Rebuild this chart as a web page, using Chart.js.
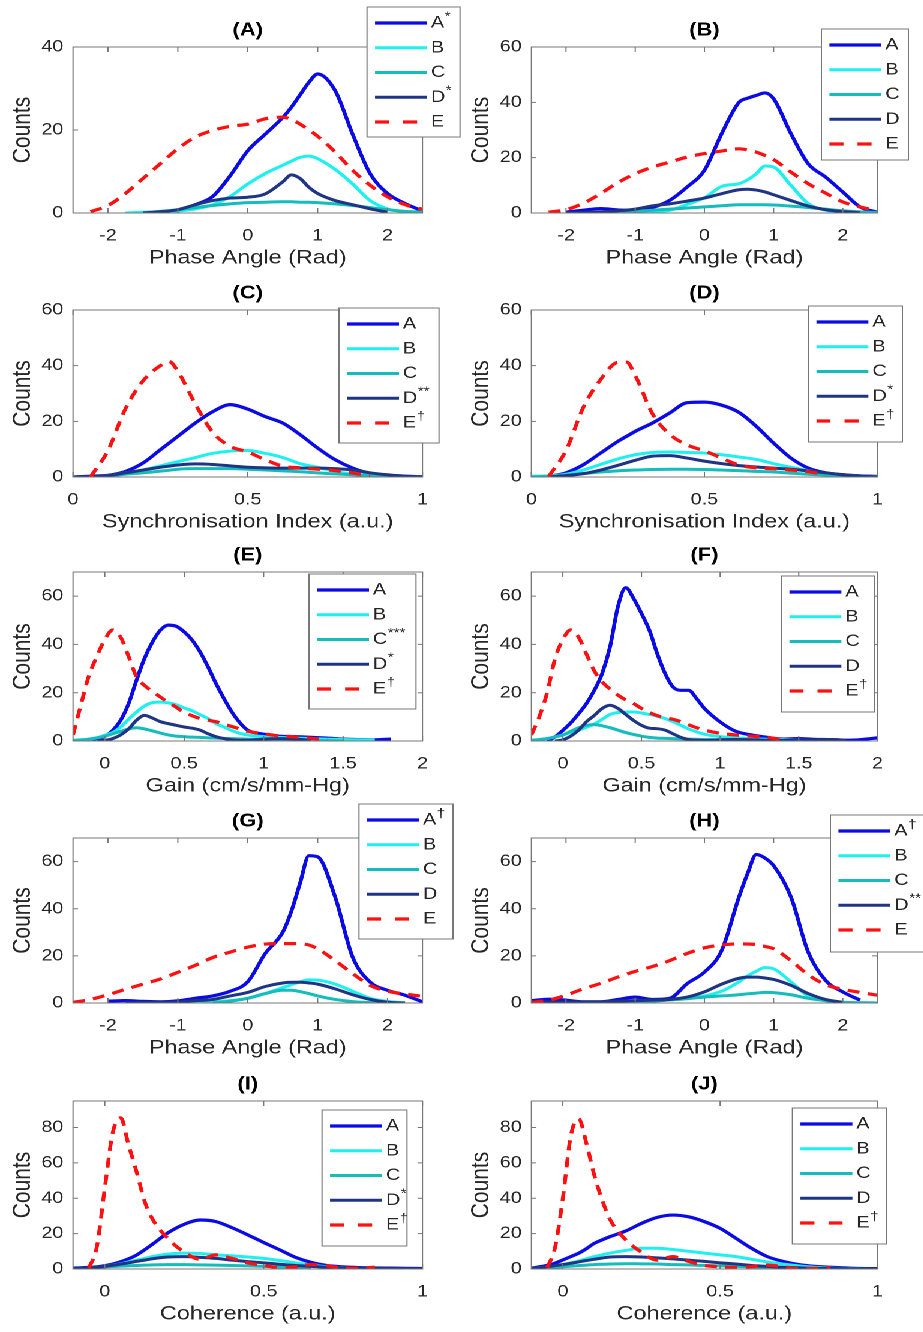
<!DOCTYPE html>
<html>
<head>
<meta charset="utf-8">
<title>Counts by group</title>
<script src="https://cdn.jsdelivr.net/npm/chart.js@4.4.1/dist/chart.umd.min.js"></script>
<style>
    html, body { margin: 0; padding: 0; background: #fff; }
    body { width: 923px; height: 1332px; overflow: hidden; }
    /* the source figure is stretched sideways, so the whole figure is too */
    #figure { position: relative; width: 769.2px; height: 1332px; transform: scaleX(1.2); transform-origin: 0 0; }
    #figure canvas { position: absolute; }
</style>
</head>
<body>
<div id="figure"></div>
<script>

// =============================
// DATA
// =============================

const phaseX = [-2.5, -2.25, -2, -1.75, -1.5, -1.25, -1, -0.75, -0.5, -0.25, 0, 0.25, 0.5, 0.625, 0.75, 0.875, 1, 1.25, 1.5, 1.75, 2, 2.25, 2.5];
const syncX = [0, 0.05, 0.1, 0.15, 0.2, 0.25, 0.275, 0.3, 0.35, 0.4, 0.45, 0.5, 0.55, 0.6, 0.65, 0.7, 0.75, 0.8, 0.85, 0.9, 0.95, 1];
const gainX = [-0.2, -0.15, -0.1, -0.05, 0, 0.05, 0.1, 0.15, 0.2, 0.25, 0.3, 0.35, 0.4, 0.45, 0.5, 0.55, 0.6, 0.65, 0.7, 0.75, 0.8, 0.85, 0.9, 1, 1.1, 1.2, 1.3, 1.4, 1.5, 1.6, 1.7, 1.8, 1.9, 2];
const cohX = [-0.1, -0.05, -0.025, 0, 0.025, 0.05, 0.075, 0.1, 0.125, 0.15, 0.2, 0.25, 0.3, 0.35, 0.4, 0.45, 0.5, 0.55, 0.6, 0.65, 0.7, 0.75, 0.8, 0.85, 0.9, 0.95, 1];

const phaseTicks = [-2, -1, 0, 1, 2];
const unitTicks = [0, 0.5, 1];
const gainTicks = [0, 0.5, 1, 1.5, 2];
const counts40 = [0, 20, 40];
const counts60 = [0, 20, 40, 60];
const counts80 = [0, 20, 40, 60, 80];

// (A) phase angle
const panelA_A = [null, null, null, null, 0, 0.2, 0.5, 2, 4, 9, 15, 19, 23, 25.5, 28.5, 31.5, 33.5, 29.5, 19, 9.5, 4.7, 2.3, 0.5];
const panelA_B = [null, null, null, 0, 0.2, 0.3, 0.5, 1, 2, 4, 7, 9.5, 11.5, 12.5, 13.4, 13.7, 13.1, 10.5, 7, 3, 1, 0.3, 0];
const panelA_C = [null, null, null, null, 0.1, 0.4, 0.8, 1.3, 1.8, 2.2, 2.5, 2.6, 2.7, 2.7, 2.6, 2.6, 2.5, 2.2, 1.8, 1.3, 0.8, 0.4, 0.2];
const panelA_D = [null, null, null, null, 0, 0.3, 0.8, 2, 3, 3.6, 3.8, 4.6, 7.5, 9.2, 8.3, 6.2, 4.7, 3, 2, 1, 0.2, null, null];
const panelA_E = [null, 0.3, 1.8, 4.7, 8.3, 11.9, 15.5, 18.3, 19.9, 20.9, 21.4, 22.7, 23.1, 22.5, 21.4, 20, 18.5, 14.7, 10.3, 6.7, 3.9, 2, 0.9];

// (B) phase angle
const panelB_A = [null, null, 0.3, 1, 1.6, 1.1, 0.8, 2, 4.6, 9.4, 15.4, 28.7, 40, 41.5, 42.5, 43.4, 41.3, 28.7, 17.8, 13, 7.6, 2.2, 0.3];
const panelB_B = [null, null, null, 0, 0.2, 0.3, 0.4, 0.6, 1, 3.1, 5.5, 9.6, 10.6, 12, 14.2, 17, 16.6, 10, 3.4, 1, 0.3, 0.1, 0];
const panelB_C = [null, null, null, 0, 0.2, 0.4, 0.6, 1, 1.4, 1.8, 2.2, 2.6, 3, 3, 3, 3, 2.9, 2.5, 2, 1.4, 0.8, 0.4, 0.2];
const panelB_D = [null, null, 0, 0.2, 0.4, 0.8, 1.4, 2.6, 3.3, 4.3, 5.4, 7, 8.4, 8.6, 8.3, 7.6, 6.6, 4.5, 2.5, 1.2, 0.5, 0.1, null];
const panelB_E = [null, 0.3, 1.2, 3.5, 7, 11, 14.2, 16.6, 18.4, 20.2, 21.5, 22.4, 23.2, 22.8, 22, 20.8, 19.3, 14.8, 10.6, 7.2, 4, 2.2, 0.8];

// (C) synchronisation index
const panelC_A = [0, 0.3, 0.6, 2, 5, 9.8, 12.2, 14.6, 19.4, 23.5, 26, 24.4, 21.7, 19.4, 15.2, 10.4, 6.2, 3.2, 1.3, 0.6, 0.3, 0.1];
const panelC_B = [null, 0, 0.5, 1.5, 2.5, 4, 4.8, 5.5, 7, 8.5, 9.3, 9.5, 8.5, 7, 4.8, 3.5, 2, 1, 0.6, 0.3, 0.1, 0];
const panelC_C = [null, 0, 0.4, 1, 1.5, 2.1, 2.4, 2.8, 3, 3, 3, 2.8, 2.5, 2.2, 1.9, 1.5, 1.1, 0.8, 0.5, 0.3, 0.2, 0.1];
const panelC_D = [0, 0.2, 0.5, 1.5, 2.5, 3.5, 3.9, 4.3, 4.7, 4.5, 4, 3.5, 3.3, 3.2, 3.2, 3.2, 3, 2.5, 1.5, 0.8, 0.3, 0.1];
const panelC_E = [null, 0, 9.5, 24.5, 34.5, 40, 41.5, 38, 26.2, 16, 11, 9, 6.2, 3.9, 3.3, 2.8, 2.3, 1.4, 0.5, null, null, null];

// (D) synchronisation index
const panelD_A = [null, 0.2, 1.5, 4.4, 8.6, 12.8, 14.6, 16.4, 19.4, 23, 26.7, 26.9, 25.8, 23.2, 18.2, 12.2, 6.8, 3.2, 1.5, 0.8, 0.4, 0.2];
const panelD_B = [0.3, 0.4, 1, 2.5, 4.5, 6.5, 7.3, 8, 8.8, 9, 8.8, 8.6, 8, 7.2, 6.3, 4.8, 3.5, 2.3, 1.3, 0.7, 0.3, 0.1];
const panelD_C = [0, 0.3, 0.7, 1.2, 1.8, 2.2, 2.4, 2.5, 2.7, 2.8, 2.8, 2.7, 2.5, 2.3, 2, 1.8, 1.4, 1, 0.7, 0.4, 0.2, 0.1];
const panelD_D = [null, 0, 0.5, 1.2, 2.5, 4.2, 5.1, 6, 7.5, 7.7, 6.8, 5.7, 4.8, 4.1, 3.6, 3.2, 2.8, 2.2, 1.5, 0.8, 0.3, 0.1];
const panelD_E = [null, 0.2, 9.5, 25, 35, 41.2, 41.3, 36.5, 22.7, 15.3, 11.5, 9.4, 6.8, 4.3, 3.3, 3, 2.5, 1.9, 0.8, null, null, null];

// (E) gain
const panelE_A = [0, 0.2, 0.5, 1, 1.9, 4.4, 8.6, 15.5, 25.2, 34.2, 41, 45.9, 48, 47.5, 45.2, 41.8, 36.9, 30.7, 23.8, 17.6, 12, 7.6, 4.5, 2.8, 2, 1.8, 1.5, 1.2, 0.8, 0.6, 0.5, 0.8, null, null];
const panelE_B = [0.3, 0.5, 0.7, 1.3, 2.4, 3.5, 5.8, 9, 12, 14.5, 15.9, 16.1, 15.8, 15, 13.7, 12.5, 10.9, 9.3, 7.2, 5.8, 4.3, 3.2, 2.5, 1.8, 1.5, 1.2, 1, 0.8, 0.6, 0.5, 0.4, null, null, null];
const panelE_C = [0.2, 0.4, 0.8, 1.3, 2, 3, 4, 5, 5.5, 5, 4.2, 3.3, 2.5, 2, 1.8, 1.6, 1.5, 1.3, 1.2, 1.1, 1, 0.9, 0.8, 0.7, 0.5, 0.3, 0.2, 0.1, 0, null, null, null, null, null];
const panelE_D = [null, null, null, 0, 0.3, 1, 2.5, 5, 8.6, 10.6, 9.5, 8, 7.2, 6.5, 5.8, 5.3, 4.5, 3, 1.8, 1, 0.5, 0.3, 0.3, 0.8, 1, 0.8, 0.3, null, null, null, null, null, null, null];
const panelE_E = [2.5, 15, 27, 35, 42, 46, 43, 35, 26.6, 23, 20.5, 18.2, 16, 14, 11.8, 10.5, 9.3, 8.6, 8, 7, 6, 5, 4, 3, 2.1, 1.7, 1.1, 0.3, null, null, null, null, null, null];

// (F) gain
const panelF_A = [null, null, 0, 1.7, 4.4, 7.5, 11.3, 15.5, 21, 28, 39, 55.6, 63.5, 59, 52.8, 45.9, 36.2, 28, 22.4, 21, 21, 17.6, 13.5, 7.9, 4, 2.5, 1.5, 0.8, 1, 0.7, 0.6, 0.3, 0.6, 1.3];
const panelF_B = [0.3, 0.6, 1, 1.7, 2.5, 3.5, 4.5, 5.7, 7, 9, 11, 11.8, 12, 12, 11.6, 11, 10.3, 9.3, 8, 6.5, 5, 3.8, 2.8, 1.8, 1.3, 1, 0.7, 0.5, 0.3, 0.2, null, null, null, null];
const panelF_C = [0.3, 0.6, 1, 1.7, 2.5, 4, 5.5, 6.5, 6.8, 6.3, 5.5, 4.5, 3.5, 2.7, 2, 1.5, 1.2, 1.1, 1, 0.9, 0.8, 0.7, 0.6, 0.5, 0.4, 0.3, 0.2, 0.1, 0.05, null, null, null, null, null];
const panelF_D = [null, null, null, 0, 0.5, 2, 4.5, 8, 10.6, 13.5, 14.8, 13.5, 11, 8.5, 6.5, 5.3, 5.1, 4.5, 3, 1.5, 0.6, 0.3, 0.2, 0.5, 0.6, 0.5, 0.3, 0.2, 0.3, 0.5, 0.6, 0.3, null, null];
const panelF_E = [2.5, 10, 20, 34, 42, 46, 43, 36, 29, 24.5, 21.5, 19, 17, 15.5, 13.5, 11.8, 10.5, 9.6, 9, 8, 6.7, 5.5, 4.5, 3.2, 2.5, 2, 1.5, 0.5, null, null, null, null, null, null];

// (G) phase angle
const panelG_A = [null, null, 0.8, 1, 0.7, 0.5, 0.9, 2, 3, 5, 9, 21, 30, 39, 51, 62.5, 62, 45, 19.5, 8.9, 5.4, 3.3, 0.5];
const panelG_B = [null, null, null, null, null, null, 0, 0.2, 0.5, 1, 2, 4, 6.5, 7.8, 9, 9.8, 9.7, 8, 5, 2, 0.7, 0.1, null];
const panelG_C = [null, null, null, null, null, null, null, null, 0, 0.8, 2, 4, 5.4, 5.4, 4.8, 4, 3, 1.5, 0.6, 0.2, 0, null, null];
const panelG_D = [null, null, null, 0, 0.2, 0.3, 0.5, 1, 1.5, 3, 4.5, 7, 8.5, 8.8, 8.8, 8.5, 8, 6, 3.5, 1.5, 0.3, 0, null];
const panelG_E = [0.3, 1.5, 3.5, 5.8, 8, 10.2, 13, 16, 19.3, 21.6, 23.7, 25, 25.2, 25.2, 25.1, 24.6, 23, 18, 12.5, 7.5, 5, 3.8, 2.8];

// (H) phase angle
const panelH_A = [1, 1.6, 1.2, 0.5, 0.5, 1.5, 2.5, 1.5, 2, 8.2, 13.1, 22.3, 45, 55, 63, 61.5, 58.3, 45, 21.6, 9.6, 4.7, 1.2, null];
const panelH_B = [null, null, null, 0, 0.2, 0.5, 0.8, 1, 1.3, 2, 3, 5, 9, 11.5, 13.5, 15, 14.5, 9, 3, 1, 0.3, 0.1, 0];
const panelH_C = [null, null, null, 0, 0.1, 0.3, 0.5, 0.8, 1.3, 1.8, 2.5, 3, 3.5, 3.9, 4.2, 4.5, 4.4, 3.5, 2, 1, 0.3, 0.1, 0];
const panelH_D = [0.3, 0.5, 0.5, 0.5, 0.5, 0.8, 1, 1.2, 1.5, 2.5, 4.7, 8, 10.5, 11, 11, 10.6, 10, 7.5, 4, 1.5, 0.3, null, null];
const panelH_E = [0.3, 1.2, 3.3, 6, 8.3, 11, 13.4, 15.5, 18, 21, 23.4, 24.6, 25.1, 25, 24.8, 24, 23, 18, 12, 7.8, 5.8, 4.5, 3.3];

// (I) coherence
const panelI_A = [0.5, 0.9, 1.2, 1.9, 2.8, 4.1, 5.8, 7.9, 10.8, 14, 20.6, 25.3, 27.7, 26.8, 23.4, 19.3, 15, 10.9, 6.6, 3.7, 1.9, 1.2, 0.8, 0.6, 0.5, 0.4, 0.3];
const panelI_B = [0.2, 0.6, 0.9, 1.5, 2.2, 3, 4, 5, 6, 7, 8.5, 9, 8.8, 8, 7.5, 6.8, 6, 4.8, 3.5, 2.3, 1.3, 0.7, 0.3, 0.2, 0.1, 0, 0];
const panelI_C = [0.3, 0.6, 0.8, 1.2, 1.4, 1.6, 1.8, 2, 2.2, 2.3, 2.5, 2.5, 2.3, 2.2, 2, 1.8, 1.5, 1.1, 0.7, 0.3, null, null, null, null, null, null, null];
const panelI_D = [0.2, 0.7, 1, 1.5, 2.1, 2.8, 3.5, 4.3, 5, 5.8, 6.8, 7, 6.6, 6, 5, 4.2, 3.5, 2.7, 2, 1.5, 1, 0.7, 0.5, 0.4, 0.3, 0.2, 0.1];
const panelI_E = [null, 0.5, 12.5, 45.7, 77, 85.5, 70, 55, 38.5, 28.3, 17, 9.5, 5.5, 8, 6, 3.5, 2, 0.8, 1.2, 2.5, 1.8, 0.5, 0.5, 1, null, null, null];

// (J) coherence
const panelJ_A = [0.5, 2, 3.3, 5.1, 7, 8.9, 11.5, 14.5, 16.5, 18.3, 21.5, 25.8, 29.2, 30.5, 29.5, 26.8, 23, 17.4, 11.7, 7, 4.3, 2.5, 1.5, 1, 0.6, 0.3, 0.2];
const panelJ_B = [0.3, 1.2, 1.8, 2.5, 3.5, 4.5, 5.8, 7, 8, 9, 10.5, 11.7, 11.7, 11, 10, 9, 8, 7, 5.5, 4, 2.8, 1.8, 1, 0.5, 0.3, 0.1, 0];
const panelJ_C = [0.3, 0.8, 1, 1.3, 1.6, 1.9, 2.2, 2.5, 2.7, 2.8, 3, 2.9, 2.8, 2.5, 2.3, 2, 1.8, 1.5, 1.2, 0.9, 0.6, 0.4, 0.3, 0.1, null, null, null];
const panelJ_D = [0.3, 1.3, 1.9, 2.5, 3.2, 4, 4.8, 5.5, 6.2, 6.8, 7, 6.8, 6.3, 5.7, 5, 4.3, 3.5, 2.8, 2, 1.5, 1, 0.7, 0.4, 0.3, 0.2, 0.1, 0.1];
const panelJ_E = [null, 0.8, 12, 40, 75, 85, 71, 53, 39, 28, 16.5, 9.5, 5, 7, 4.3, 2, 1.2, 0.8, 1.3, 2.2, 1.3, 0.2, 0.3, 0.8, null, null, null];

const labelsA = ["A*", "B", "C", "D*", "E"];
const labelsB = ["A", "B", "C", "D", "E"];
const labelsC = ["A", "B", "C", "D**", "E†"];
const labelsD = ["A", "B", "C", "D*", "E†"];
const labelsE = ["A", "B", "C***", "D*", "E†"];
const labelsF = ["A", "B", "C", "D", "E†"];
const labelsG = ["A†", "B", "C", "D", "E"];
const labelsH = ["A†", "B", "C", "D**", "E"];
const labelsI = ["A", "B", "C", "D*", "E†"];
const labelsJ = ["A", "B", "C", "D", "E†"];

// =============================
// LAYOUT (page pixels)
// =============================

const STRETCH = 1.2;
const FONT = '"Liberation Sans", Arial, Helvetica, sans-serif';
const TEXT = "#262626";
const FRAME = "#777777";

const CANVAS_LEFT = [0, 458];
const CANVAS_RIGHT = [461, 923];
const PLOT_LEFT = [73, 531];
const PLOT_RIGHT = [422.5, 877];
const PLOT_TOP = [47, 310, 572, 838, 1101];
const PLOT_H = [166, 167, 169, 165, 168];
const HEAD = 47;
const FOOT = 58;

const SERIES_STYLE = [
    { color: "#0a0ae6", width: 3.2, dash: [] },
    { color: "#1ef0f0", width: 3, dash: [] },
    { color: "#14bcbc", width: 3, dash: [] },
    { color: "#1f3584", width: 3, dash: [] },
    { color: "#ff1010", width: 3.2, dash: [10, 7] }
];

const panels = [
    { title: "(A)", row: 0, col: 0, x: phaseX, series: [panelA_A, panelA_B, panelA_C, panelA_D, panelA_E], labels: labelsA,
      xMin: -2.5, xMax: 2.5, xTicks: phaseTicks, yMax: 40, yTicks: counts40, xTitle: "Phase Angle (Rad)", legend: [367, 7, 93, 130] },
    { title: "(B)", row: 0, col: 1, x: phaseX, series: [panelB_A, panelB_B, panelB_C, panelB_D, panelB_E], labels: labelsB,
      xMin: -2.5, xMax: 2.5, xTicks: phaseTicks, yMax: 60, yTicks: counts60, xTitle: "Phase Angle (Rad)", legend: [821, 29, 87, 131] },
    { title: "(C)", row: 1, col: 0, x: syncX, series: [panelC_A, panelC_B, panelC_C, panelC_D, panelC_E], labels: labelsC,
      xMin: 0, xMax: 1, xTicks: unitTicks, yMax: 60, yTicks: counts60, xTitle: "Synchronisation Index (a.u.)", legend: [339, 308, 100, 135] },
    { title: "(D)", row: 1, col: 1, x: syncX, series: [panelD_A, panelD_B, panelD_C, panelD_D, panelD_E], labels: labelsD,
      xMin: 0, xMax: 1, xTicks: unitTicks, yMax: 60, yTicks: counts60, xTitle: "Synchronisation Index (a.u.)", legend: [808, 306, 94, 136] },
    { title: "(E)", row: 2, col: 0, x: gainX, series: [panelE_A, panelE_B, panelE_C, panelE_D, panelE_E], labels: labelsE,
      xMin: -0.2, xMax: 2, xTicks: gainTicks, yMax: 70, yTicks: counts60, xTitle: "Gain (cm/s/mm-Hg)", legend: [309, 574, 107, 135] },
    { title: "(F)", row: 2, col: 1, x: gainX, series: [panelF_A, panelF_B, panelF_C, panelF_D, panelF_E], labels: labelsF,
      xMin: -0.2, xMax: 2, xTicks: gainTicks, yMax: 70, yTicks: counts60, xTitle: "Gain (cm/s/mm-Hg)", legend: [781, 576, 93, 136] },
    { title: "(G)", row: 3, col: 0, x: phaseX, series: [panelG_A, panelG_B, panelG_C, panelG_D, panelG_E], labels: labelsG,
      xMin: -2.5, xMax: 2.5, xTicks: phaseTicks, yMax: 70, yTicks: counts60, xTitle: "Phase Angle (Rad)", legend: [359, 804, 94, 135] },
    { title: "(H)", row: 3, col: 1, x: phaseX, series: [panelH_A, panelH_B, panelH_C, panelH_D, panelH_E], labels: labelsH,
      xMin: -2.5, xMax: 2.5, xTicks: phaseTicks, yMax: 70, yTicks: counts60, xTitle: "Phase Angle (Rad)", legend: [830, 815, 100, 137] },
    { title: "(I)", row: 4, col: 0, x: cohX, series: [panelI_A, panelI_B, panelI_C, panelI_D, panelI_E], labels: labelsI,
      xMin: -0.1, xMax: 1, xTicks: unitTicks, yMax: 95, yTicks: counts80, xTitle: "Coherence (a.u.)", legend: [322, 1110, 85, 136] },
    { title: "(J)", row: 4, col: 1, x: cohX, series: [panelJ_A, panelJ_B, panelJ_C, panelJ_D, panelJ_E], labels: labelsJ,
      xMin: -0.1, xMax: 1, xTicks: unitTicks, yMax: 95, yTicks: counts80, xTitle: "Coherence (a.u.)", legend: [792, 1108, 94, 136] }
];

// =============================
// FRAME, TICKS, TITLE, LEGEND
// =============================

const panelDecor = {
    id: "panelDecor",
    afterDraw(chart, args, opts) {
        const { ctx, chartArea: a, scales: { x, y } } = chart;
        ctx.save();

        // box
        ctx.strokeStyle = FRAME;
        ctx.lineWidth = 1;
        ctx.setLineDash([]);
        ctx.strokeRect(a.left, a.top, a.right - a.left, a.bottom - a.top);

        // inward ticks on all four sides
        ctx.beginPath();
        x.ticks.forEach(t => {
            const px = x.getPixelForValue(t.value);
            ctx.moveTo(px, a.bottom); ctx.lineTo(px, a.bottom - 5);
            ctx.moveTo(px, a.top); ctx.lineTo(px, a.top + 5);
        });
        y.ticks.forEach(t => {
            const py = y.getPixelForValue(t.value);
            ctx.moveTo(a.left, py); ctx.lineTo(a.left + 4.2, py);
            ctx.moveTo(a.right, py); ctx.lineTo(a.right - 4.2, py);
        });
        ctx.stroke();

        // panel title
        ctx.fillStyle = "#000";
        ctx.font = "bold 18.3px " + FONT;
        ctx.textAlign = "center";
        ctx.textBaseline = "middle";
        ctx.fillText(opts.title, (a.left + a.right) / 2, a.top - 16.5);

        // legend box
        const [bx, by, bw, bh] = opts.box;
        ctx.fillStyle = "#fff";
        ctx.fillRect(bx, by, bw, bh);
        ctx.strokeStyle = FRAME;
        ctx.lineWidth = 1;
        ctx.strokeRect(bx, by, bw, bh);

        chart.data.datasets.forEach((ds, i) => {
            const cy = by + 16 + i * 24.75;
            ctx.strokeStyle = ds.borderColor;
            ctx.lineWidth = ds.borderWidth;
            ctx.setLineDash(ds.borderDash.length ? [11.7, 11.7] : []);
            ctx.beginPath();
            ctx.moveTo(bx + 6.7, cy);
            ctx.lineTo(bx + 6.7 + 43.3, cy);
            ctx.stroke();

            const base = ds.label.slice(0, 1);
            const sup = ds.label.slice(1);
            ctx.fillStyle = TEXT;
            ctx.textAlign = "left";
            ctx.textBaseline = "middle";
            ctx.font = "16.5px " + FONT;
            const tx = bx + 53.3;
            ctx.fillText(base, tx, cy);
            if (sup) {
                const w = ctx.measureText(base).width;
                ctx.font = "12.5px " + FONT;
                ctx.fillText(sup, tx + w + 0.5, cy - 6);
            }
        });

        ctx.restore();
    }
};

// =============================
// BUILD ONE PANEL
// =============================

function renderPanel(p) {

    const fig = document.getElementById("figure");
    const canvas = document.createElement("canvas");

    const left = CANVAS_LEFT[p.col] / STRETCH;
    const width = Math.ceil((CANVAS_RIGHT[p.col] - CANVAS_LEFT[p.col]) / STRETCH);
    const height = HEAD + PLOT_H[p.row] + FOOT;
    const yAxisWidth = (PLOT_LEFT[p.col] - CANVAS_LEFT[p.col]) / STRETCH;
    const rightPad = width - (PLOT_RIGHT[p.col] - CANVAS_LEFT[p.col]) / STRETCH;

    canvas.width = width;
    canvas.height = height;
    canvas.style.left = left + "px";
    canvas.style.top = (PLOT_TOP[p.row] - HEAD) + "px";
    fig.appendChild(canvas);

    const [lx, ly, lw, lh] = p.legend;
    const box = [(lx - CANVAS_LEFT[p.col]) / STRETCH, ly - (PLOT_TOP[p.row] - HEAD), lw / STRETCH, lh];

    const datasets = p.series.map((ys, i) => ({
        label: p.labels[i],
        data: p.x.map((xv, k) => ({ x: xv, y: ys[k] })),
        borderColor: SERIES_STYLE[i].color,
        borderWidth: SERIES_STYLE[i].width,
        borderDash: SERIES_STYLE[i].dash,
        pointRadius: 0,
        fill: false,
        order: 5 - i
    }));

    new Chart(canvas, {
        type: "line",
        data: { datasets },
        options: {
            responsive: false,
            animation: false,
            devicePixelRatio: 2,
            layout: { padding: { top: HEAD, right: rightPad, left: 0, bottom: 0 } },
            elements: { line: { cubicInterpolationMode: "monotone", borderCapStyle: "butt" } },
            plugins: {
                legend: { display: false },
                tooltip: { enabled: false },
                panelDecor: { title: p.title, box }
            },
            scales: {
                x: {
                    type: "linear",
                    min: p.xMin,
                    max: p.xMax,
                    grid: { display: false, drawTicks: false },
                    border: { display: false },
                    afterBuildTicks: s => { s.ticks = p.xTicks.map(v => ({ value: v })); },
                    afterFit: s => { s.height = FOOT; },
                    ticks: { padding: 13, color: TEXT, maxRotation: 0, autoSkip: false, font: { family: FONT, size: 16.5 }, callback: v => String(v) },
                    title: { display: true, text: p.xTitle, color: TEXT, font: { family: FONT, size: 19.5 }, padding: { top: 0, bottom: 1 } }
                },
                y: {
                    type: "linear",
                    min: 0,
                    max: p.yMax,
                    grid: { display: false, drawTicks: false },
                    border: { display: false },
                    afterBuildTicks: s => { s.ticks = p.yTicks.map(v => ({ value: v })); },
                    afterFit: s => { s.width = yAxisWidth; },
                    ticks: { padding: 8, color: TEXT, autoSkip: false, font: { family: FONT, size: 16.5 }, callback: v => String(v) },
                    title: { display: true, text: "Counts", color: TEXT, font: { family: FONT, size: 21 }, padding: { top: 6.6, bottom: 0 } }
                }
            }
        },
        plugins: [panelDecor]
    });

}

panels.forEach(renderPanel);

</script>
</body>
</html>
